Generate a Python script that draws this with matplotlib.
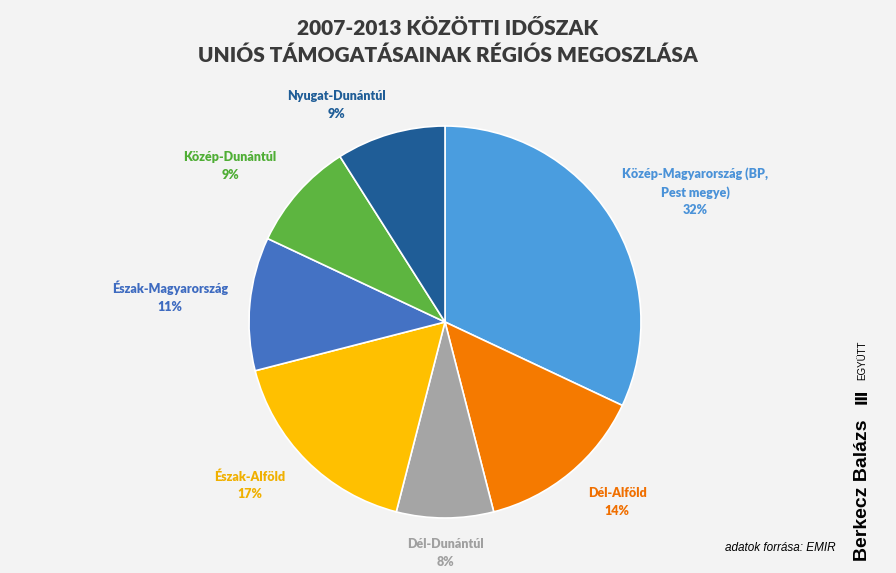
import matplotlib.pyplot as plt

regions = ["Közép-Magyarország (BP,\nPest megye)", "Dél-Alföld", "Dél-Dunántúl",
           "Észak-Alföld", "Észak-Magyarország", "Közép-Dunántúl", "Nyugat-Dunántúl"]
shares = [32, 14, 8, 17, 11, 9, 9]
colors = ["#4a9ddf", "#f57a00", "#a5a5a5", "#ffc000", "#4472c4", "#5db540", "#1f5d97"]
text_colors = ["#4a92d8", "#f06f00", "#a0a0a0", "#f0b000", "#3e6bc0", "#4fae35", "#1f5d97"]
# label centres, in pie radii from the centre (layout only)
label_xy = [(1.276, 0.663), (0.878, -0.918), (0.0, -1.179), (-0.995, -0.832),
            (-1.403, 0.128), (-1.097, 0.796), (-0.556, 1.107)]

bg = "#f3f3f3"
fig = plt.figure(figsize=(8.96, 5.73), dpi=100, facecolor=bg)
# pie centre ~ (445, 322) px, radius ~196 px
cx, cy, r_px = 445, 322, 196
ax = fig.add_axes([(cx - r_px) / 896, 1 - (cy + r_px) / 573, 2 * r_px / 896, 2 * r_px / 573])
ax.set_facecolor(bg)

ax.pie(shares, colors=colors, startangle=90, counterclock=False,
       radius=1, wedgeprops=dict(edgecolor="white", linewidth=1.2))
ax.set_xlim(-1, 1)
ax.set_ylim(-1, 1)
ax.set_aspect("equal")
ax.axis("off")

for name, val, c, (x, y) in zip(regions, shares, text_colors, label_xy):
    ax.text(x, y, f"{name}\n{val}%", ha="center", va="center", fontsize=9,
            fontweight="heavy", color=c, family="Lato", clip_on=False, linespacing=1.55)

fig.text(0.5, 1 - 42 / 573, "2007-2013 KÖZÖTTI IDŐSZAK\nUNIÓS TÁMOGATÁSAINAK RÉGIÓS MEGOSZLÁSA",
         ha="center", va="center", fontsize=15, fontweight="heavy", color="#3a3a3a",
         family="Lato", linespacing=1.5)

fig.text(780 / 896, 1 - 548 / 573, "adatok forrása: EMIR", ha="center", va="center",
         fontsize=8.5, style="italic", color="black", family="Liberation Sans")
fig.text(862 / 896, 1 - 490 / 573, "Berkecz Balázs", rotation=90, ha="center", va="center",
         fontsize=14, fontweight="bold", color="black", family="Liberation Sans")
fig.text(862 / 896, 1 - 360 / 573, "EGYÜTT", rotation=90, ha="center", va="center",
         fontsize=7, color="black", family="Liberation Sans")
fig.text(862 / 896, 1 - 397 / 573, "Ⅲ", rotation=90, ha="center", va="center",
         fontsize=11, fontweight="bold", color="black", family="DejaVu Sans")

fig.savefig("out.png", dpi=100, facecolor=bg)
